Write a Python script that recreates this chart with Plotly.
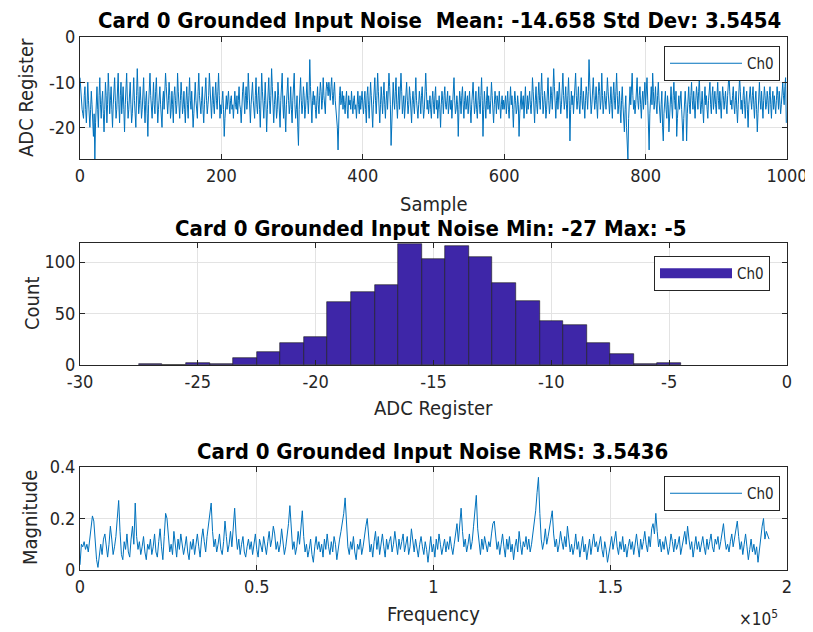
import plotly.graph_objects as go

# ---------------- data ----------------
adc_samples = [
 -9,-12,-15,-16,-17,-18,-13,-11,-16,-19,-15,-10,-14,-17,-20,-16,-12,-15,-18,-22,-17,-27,-19,-14,-11,-16,-20,-13,-9,-15,-18,-14,-12,-17,-21,-16,-10,-13,-19,-15,-8,-12,-17,-14,-11,-16,-20,-15,-13,-9,
 -14,-18,-16,-12,-8,-15,-19,-13,-10,-17,-14,-11,-16,-21,-15,-12,-8,-14,-18,-16,-13,-10,-15,-19,-17,-12,-9,-14,-16,-20,-13,-7,-12,-17,-15,-11,-14,-18,-16,-13,-9,-15,-19,-14,-12,-17,-22,-15,-11,-8,
 -13,-16,-18,-14,-10,-15,-17,-12,-9,-14,-19,-16,-13,-11,-15,-18,-20,-14,-12,-16,-13,-8,-11,-15,-17,-14,-10,-13,-18,-16,-12,-15,-19,-13,-11,-14,-17,-15,-8,-12,-16,-18,-14,-10,-13,-17,-15,-12,-16,-19,
 -14,-11,-15,-18,-13,-9,-14,-16,-12,-15,-20,-17,-13,-10,-14,-16,-18,-12,-8,-13,-15,-17,-14,-11,-16,-19,-15,-12,-9,-14,-17,-15,-13,-8,-12,-16,-18,-14,-11,-15,-17,-13,-10,-14,-16,-12,-8,-13,-18,-15,
 -17,-14,-12,-16,-22,-18,-15,-13,-16,-14,-12,-15,-17,-14,-13,-16,-15,-18,-14,-12,-15,-16,-13,-17,-14,-11,-15,-16,-19,-14,-12,-10,-15,-17,-13,-11,-16,-14,-8,-12,-17,-19,-15,-13,-10,-14,-16,-18,-13,-9,
 -15,-17,-13,-11,-16,-20,-14,-8,-12,-16,-18,-14,-10,-15,-21,-16,-12,-9,-14,-17,-13,-7,-11,-16,-19,-15,-12,-14,-18,-16,-10,-13,-17,-20,-14,-11,-8,-15,-18,-13,-16,-21,-15,-12,-9,-14,-17,-15,-11,-16,
 -19,-14,-12,-8,-15,-18,-16,-13,-20,-24,-16,-12,-9,-14,-17,-15,-11,-13,-18,-16,-12,-10,-14,-17,-13,-5,-11,-16,-19,-14,-12,-15,-13,-16,-18,-14,-11,-15,-17,-13,-10,-12,-16,-14,-9,-13,-15,-17,-12,-10,
 -11,-13,-10,-12,-14,-11,-9,-13,-15,-12,-10,-14,-16,-18,-20,-25,-17,-13,-11,-15,-14,-12,-16,-13,-15,-17,-14,-12,-16,-18,-13,-15,-14,-16,-12,-15,-17,-14,-13,-16,-15,-18,-14,-12,-15,-17,-13,-16,-14,-12,
 -15,-17,-14,-12,-16,-19,-13,-11,-15,-18,-14,-10,-13,-16,-20,-15,-12,-9,-14,-17,-13,-8,-12,-16,-19,-15,-11,-14,-17,-13,-10,-15,-18,-14,-12,-16,-13,-8,-11,-15,-24,-17,-13,-10,-14,-16,-12,-9,-15,-18,
 -14,-11,-16,-13,-8,-12,-17,-15,-13,-18,-16,-12,-10,-14,-17,-15,-11,-13,-16,-19,-14,-12,-15,-17,-13,-9,-14,-16,-18,-15,-12,-14,-17,-13,-11,-15,-18,-16,-13,-8,-12,-16,-14,-17,-15,-13,-16,-18,-14,-12,
 -15,-17,-13,-11,-16,-14,-18,-15,-13,-16,-20,-15,-12,-14,-17,-13,-11,-15,-16,-14,-12,-17,-15,-13,-16,-14,-18,-15,-12,-9,-14,-17,-16,-13,-15,-22,-16,-12,-14,-17,-13,-11,-15,-18,-14,-12,-16,-15,-13,-17,
 -14,-12,-16,-19,-15,-13,-10,-14,-17,-15,-12,-16,-18,-14,-11,-15,-17,-13,-9,-14,-22,-16,-12,-15,-18,-14,-11,-16,-13,-15,-17,-14,-10,-13,-16,-19,-15,-12,-14,-17,-13,-15,-16,-12,-14,-18,-15,-13,-16,-14,
 -16,-14,-13,-17,-15,-12,-16,-18,-14,-11,-15,-13,-16,-20,-15,-12,-14,-17,-16,-13,-15,-22,-17,-14,-12,-16,-15,-13,-18,-14,-11,-15,-17,-13,-16,-14,-12,-15,-17,-14,-9,-12,-16,-19,-14,-11,-15,-17,-13,-10,
 -14,-16,-12,-8,-13,-17,-15,-12,-14,-18,-16,-13,-9,-14,-17,-15,-11,-13,-16,-12,-7,-11,-15,-18,-14,-12,-16,-13,-10,-14,-17,-15,-12,-8,-13,-16,-14,-11,-15,-18,-13,-9,-14,-23,-16,-12,-15,-13,-17,-14,
 -12,-8,-13,-16,-14,-11,-15,-17,-13,-9,-14,-16,-12,-15,-18,-14,-11,-13,-16,-12,-5,-10,-14,-17,-15,-12,-9,-13,-16,-14,-11,-15,-18,-13,-10,-12,-16,-14,-8,-13,-17,-15,-12,-14,-16,-13,-9,-12,-15,-17,
 -14,-11,-15,-18,-13,-10,-14,-16,-12,-8,-13,-17,-15,-12,-16,-19,-14,-11,-15,-18,-21,-16,-13,-20,-23,-27,-18,-14,-11,-15,-12,-8,-13,-16,-14,-17,-15,-12,-9,-14,-16,-13,-11,-15,-18,-14,-12,-16,-13,-10,
 -15,-12,-9,-14,-18,-25,-17,-13,-11,-15,-8,-12,-16,-14,-11,-15,-17,-13,-10,-14,-16,-19,-15,-12,-20,-23,-17,-14,-12,-16,-18,-13,-15,-21,-17,-14,-11,-15,-18,-13,-10,-14,-16,-12,-22,-18,-15,-13,-16,-14,
 -12,-16,-19,-23,-18,-14,-12,-15,-23,-17,-13,-11,-15,-17,-13,-10,-14,-16,-12,-15,-18,-14,-11,-13,-16,-12,-9,-14,-17,-15,-12,-16,-19,-14,-11,-15,-13,-16,-18,-14,-12,-10,-15,-17,-13,-11,-16,-14,-12,-15,
 -17,-13,-10,-14,-16,-12,-15,-18,-14,-11,-13,-16,-14,-12,-15,-17,-13,-11,-8,-12,-15,-14,-16,-13,-11,-15,-17,-14,-12,-16,-19,-15,-13,-9,-12,-16,-14,-17,-13,-11,-15,-18,-14,-12,-16,-20,-15,-13,-11,-14,
 -16,-13,-11,-15,-18,-14,-12,-16,-21,-17,-13,-10,-14,-16,-12,-15,-18,-14,-11,-13,-16,-15,-12,-14,-17,-13,-11,-15,-18,-14,-12,-16,-13,-15,-17,-14,-11,-13,-16,-12,-14,-17,-15,-12,-10,-13,-15,-11,-9,-19,
]

hist_bins = [-27,-26,-25,-24,-23,-22,-21,-20,-19,-18,-17,-16,-15,-14,-13,-12,-11,-10,-9,-8,-7,-6,-5]
hist_counts = [1,0,2,1,7,13,21,27,61,71,78,118,103,116,105,80,62,43,39,21,11,1,2]

fft_df = 390.625
fft_mag = [
 0.02,0.10,0.09,0.11,0.08,0.10,0.07,0.12,0.18,0.21,0.19,0.09,0.04,0.01,0.05,0.10,0.06,0.12,0.14,0.08,0.05,0.10,0.17,0.12,0.06,
 0.09,0.13,0.20,0.27,0.15,0.06,0.04,0.11,0.08,0.14,0.07,0.05,0.12,0.17,0.10,0.26,0.13,0.08,0.11,0.06,0.09,0.13,0.07,0.04,0.10,
 0.08,0.12,0.06,0.09,0.14,0.07,0.05,0.11,0.16,0.09,0.04,0.13,0.22,0.20,0.12,0.07,0.10,0.06,0.15,0.09,0.05,0.12,0.08,0.14,0.10,
 0.06,0.09,0.13,0.07,0.04,0.11,0.08,0.12,0.06,0.10,0.14,0.09,0.05,0.12,0.16,0.11,0.07,0.13,0.18,0.21,0.26,0.15,0.09,0.12,0.07,
 0.10,0.14,0.08,0.06,0.11,0.19,0.13,0.07,0.10,0.15,0.09,0.17,0.24,0.14,0.08,0.12,0.06,0.10,0.13,0.07,0.05,0.09,0.12,0.08,0.11,
 0.06,0.10,0.14,0.08,0.05,0.12,0.09,0.07,0.13,0.10,0.06,0.11,0.15,0.09,0.12,0.17,0.14,0.08,0.11,0.07,0.10,0.16,0.12,0.06,0.09,
 0.13,0.18,0.25,0.14,0.08,0.11,0.06,0.09,0.15,0.10,0.17,0.23,0.13,0.07,0.10,0.05,0.08,0.12,0.06,0.03,0.09,0.13,0.08,0.11,0.07,
 0.10,0.05,0.12,0.08,0.14,0.09,0.06,0.11,0.07,0.13,0.10,0.04,0.09,0.12,0.15,0.18,0.22,0.28,0.16,0.09,0.06,0.11,0.08,0.13,0.07,
 0.04,0.10,0.08,0.12,0.06,0.09,0.14,0.17,0.20,0.12,0.07,0.10,0.05,0.11,0.15,0.08,0.13,0.06,0.10,0.14,0.09,0.05,0.12,0.08,0.11,
 0.13,0.07,0.10,0.15,0.09,0.06,0.12,0.08,0.11,0.14,0.07,0.10,0.13,0.06,0.09,0.16,0.11,0.07,0.12,0.08,0.05,0.10,0.13,0.09,0.06,
 0.11,0.08,0.03,0.09,0.13,0.07,0.10,0.05,0.12,0.08,0.14,0.10,0.06,0.09,0.12,0.07,0.11,0.08,0.13,0.09,0.06,0.10,0.14,0.18,0.11,
 0.17,0.24,0.15,0.09,0.12,0.07,0.10,0.14,0.08,0.11,0.17,0.22,0.29,0.16,0.10,0.06,0.12,0.08,0.13,0.10,0.07,0.11,0.09,0.14,0.18,
 0.19,0.12,0.08,0.11,0.06,0.10,0.14,0.09,0.05,0.12,0.08,0.13,0.07,0.10,0.04,0.09,0.12,0.07,0.15,0.10,0.06,0.11,0.09,0.13,0.08,
 0.12,0.07,0.10,0.14,0.18,0.23,0.30,0.36,0.22,0.12,0.08,0.11,0.16,0.10,0.13,0.17,0.20,0.23,0.14,0.09,0.12,0.07,0.10,0.15,0.11,
 0.08,0.13,0.09,0.17,0.12,0.07,0.10,0.06,0.09,0.14,0.08,0.11,0.05,0.09,0.13,0.07,0.10,0.04,0.08,0.12,0.06,0.10,0.14,0.09,0.11,
 0.07,0.10,0.13,0.08,0.05,0.11,0.08,0.03,0.07,0.10,0.13,0.08,0.12,0.15,0.09,0.06,0.11,0.08,0.13,0.07,0.10,0.05,0.09,0.12,0.08,
 0.11,0.06,0.10,0.14,0.09,0.05,0.12,0.08,0.11,0.15,0.10,0.07,0.13,0.09,0.16,0.18,0.14,0.22,0.15,0.09,0.12,0.07,0.11,0.08,0.13,
 0.10,0.06,0.09,0.14,0.11,0.07,0.12,0.08,0.10,0.13,0.06,0.09,0.12,0.15,0.10,0.17,0.12,0.08,0.11,0.05,0.09,0.13,0.08,0.11,0.07,
 0.10,0.13,0.09,0.06,0.12,0.08,0.11,0.14,0.09,0.07,0.12,0.10,0.13,0.08,0.11,0.15,0.18,0.12,0.08,0.10,0.07,0.11,0.14,0.09,0.12,
 0.15,0.19,0.13,0.08,0.11,0.06,0.10,0.14,0.09,0.04,0.08,0.12,0.07,0.10,0.06,0.09,0.03,0.08,0.13,0.17,0.20,0.12,0.15,0.13,0.12,
]

titles = [
    "Card 0 Grounded Input Noise  Mean: -14.658 Std Dev: 3.5454",
    "Card 0 Grounded Input Noise Min: -27 Max: -5",
    "Card 0 Grounded Input Noise RMS: 3.5436",
]
ts_xticks = [0, 200, 400, 600, 800, 1000]
ts_yticks = [-20, -10, 0]
ts_yticktext = ["-20", "-10", "0"]
hist_xticks = [-30, -25, -20, -15, -10, -5, 0]
hist_xticktext = ["-30", "-25", "-20", "-15", "-10", "-5", "0"]
hist_yticks = [0, 50, 100]
freq_ticks = [0, 50000, 100000, 150000, 200000]
freq_ticktext = ["0", "0.5", "1", "1.5", "2"]
mag_ticks = [0, 0.2, 0.4]
mag_ticktext = ["0", "0.2", "0.4"]

# ---------------- figure ----------------
# The page body adds an 8 px margin, so all reference pixel positions are
# shifted by OFF and the figure is sized to fit the window.
OFF = 8
W, H = 813 - OFF, 632 - OFF
FONT = "DejaVu Sans Condensed, DejaVu Sans, sans-serif"
LINE_C = "#0072BD"
BAR_C = "rgb(62,38,168)"
AX_C = "#262626"
GRID_C = "#e3e3e3"

def PX(x):
    return (x - OFF) / W

def PY(y):
    return 1 - (y - OFF) / H

sample_idx = list(range(len(adc_samples)))
freqs = [k * fft_df for k in range(len(fft_mag))]

fig = go.Figure()
fig.add_trace(go.Scatter(x=sample_idx, y=adc_samples, mode="lines", name="Ch0",
                         line=dict(color=LINE_C, width=1), xaxis="x", yaxis="y",
                         legend="legend"))
fig.add_trace(go.Bar(x=hist_bins, y=hist_counts, width=1, name="Ch0", showlegend=False,
                     marker=dict(color=BAR_C, line=dict(color="#1a1a1a", width=0.6)),
                     xaxis="x2", yaxis="y2"))
# legend entry for the histogram (wide filled rectangle like MATLAB)
fig.add_trace(go.Scatter(x=[None], y=[None], mode="lines", name="Ch0",
                         line=dict(color=BAR_C, width=14), xaxis="x2", yaxis="y2",
                         legend="legend2"))
fig.add_trace(go.Scatter(x=freqs, y=fft_mag, mode="lines", name="Ch0",
                         line=dict(color=LINE_C, width=1), xaxis="x3", yaxis="y3",
                         legend="legend3"))

xdom = [PX(80), PX(787)]
common = dict(showline=True, linecolor=AX_C, linewidth=1, mirror="ticks",
              ticks="inside", ticklen=5, tickcolor=AX_C, showgrid=True,
              gridcolor=GRID_C, gridwidth=1, zeroline=False, automargin=False,
              tickfont=dict(family=FONT, size=18, color=AX_C))

fig.update_layout(
    width=W, height=H, margin=dict(l=0, r=0, t=0, b=0, autoexpand=False),
    paper_bgcolor="white", plot_bgcolor="white",
    font=dict(family=FONT, color=AX_C),
    bargap=0,
    xaxis=dict(domain=xdom, range=[0, 1000], tickvals=ts_xticks,
               anchor="y", **common),
    yaxis=dict(domain=[PY(159), PY(37)], range=[-27, 0], tickvals=ts_yticks,
               ticktext=ts_yticktext, anchor="x", **common),
    xaxis2=dict(domain=xdom, range=[-30, 0], tickvals=hist_xticks, ticktext=hist_xticktext,
                anchor="y2", **common),
    yaxis2=dict(domain=[PY(365), PY(243)], range=[0, 118.5], tickvals=hist_yticks,
                anchor="x2", **common),
    xaxis3=dict(domain=xdom, range=[0, 200000], tickvals=freq_ticks, ticktext=freq_ticktext,
                anchor="y3", **common),
    yaxis3=dict(domain=[PY(570), PY(467)], range=[0, 0.4], tickvals=mag_ticks,
                ticktext=mag_ticktext, anchor="x3", **common),
)

leg_common = dict(bgcolor="white", bordercolor=AX_C, borderwidth=1,
                  font=dict(family=FONT, size=15, color=AX_C),
                  xanchor="right", yanchor="top", itemwidth=72,
                  tracegroupgap=0)
fig.update_layout(
    legend=dict(x=PX(780), y=PY(46), **leg_common),
    legend2=dict(x=PX(770), y=PY(256), **leg_common),
    legend3=dict(x=PX(780), y=PY(476), **leg_common),
)

ann = []
for t, xpx, ypx in zip(titles, [440, 431, 432], [20, 228, 451]):
    ann.append(dict(text="<b>" + t + "</b>", x=PX(xpx), y=PY(ypx), xref="paper", yref="paper",
                    showarrow=False, font=dict(family=FONT, size=22, color="black"),
                    xanchor="center", yanchor="middle"))
for t, xpx, ypx in [("Sample", 433, 204), ("ADC Register", 433, 408), ("Frequency", 433, 614)]:
    ann.append(dict(text=t, x=PX(xpx), y=PY(ypx), xref="paper", yref="paper",
                    showarrow=False, font=dict(family=FONT, size=20, color=AX_C),
                    xanchor="center", yanchor="middle"))
for t, xpx, ypx in [("ADC Register", 26, 98), ("Count", 32, 304), ("Magnitude", 30, 518)]:
    ann.append(dict(text=t, x=PX(xpx), y=PY(ypx), xref="paper", yref="paper",
                    showarrow=False, textangle=-90, font=dict(family=FONT, size=20, color=AX_C),
                    xanchor="center", yanchor="middle"))
ann.append(dict(text="×10<sup>5</sup>", x=PX(758), y=PY(618), xref="paper", yref="paper",
                showarrow=False, font=dict(family=FONT, size=17, color=AX_C),
                xanchor="center", yanchor="middle"))
fig.update_layout(annotations=ann)

fig.write_html("out.html")
